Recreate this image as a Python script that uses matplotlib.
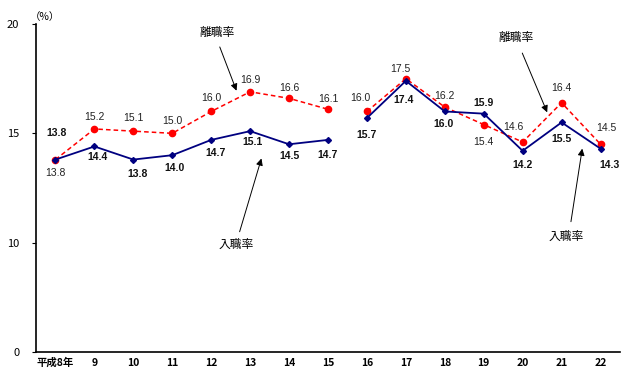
import numpy as np
import matplotlib
matplotlib.use('Agg')
import matplotlib.pyplot as plt

plt.rcParams['font.family'] = ['Noto Sans CJK JP', 'DejaVu Sans']

# データ
years = ['平成8年', '9', '10', '11', '12', '13', '14', '15',
         '16', '17', '18', '19', '20', '21', '22']
nyushoku = [13.8, 14.4, 13.8, 14.0, 14.7, 15.1, 14.5, 14.7,
            15.7, 17.4, 16.0, 15.9, 14.2, 15.5, 14.3]
rishoku = [13.8, 15.2, 15.1, 15.0, 16.0, 16.9, 16.6, 16.1,
           16.0, 17.5, 16.2, 15.4, 14.6, 16.4, 14.5]
y_ticks = [0, 10, 15, 20]

# ラベル位置 (px)
rishoku_off = [(0, -13), (0, 12), (0, 13), (0, 12), (0, 13), (0, 12), (0, 10), (0, 10),
               (-7, 13), (-6, 10), (0, 11), (0, -17), (-9, 15), (0, 15), (6, 16)]
nyushoku_off = [(1, 27), (3, -11), (4, -14), (2, -13), (4, -13), (2, -11), (0, -12), (0, -15),
                (0, -17), (-2, -19), (-1, -13), (0, 11), (0, -14), (0, -17), (9, -16)]


# 縦軸: 0-10 と 10-20 で目盛り間隔が違う
def fwd(v):
    v = np.asarray(v, dtype=float)
    return np.where(v <= 10, v / 10.0, 1 + (v - 10) / 5.0)


def inv(t):
    t = np.asarray(t, dtype=float)
    return np.where(t <= 1, t * 10.0, 10 + (t - 1) * 5.0)


fig = plt.figure(figsize=(6.42, 3.86), dpi=100)
ax = fig.add_axes([36 / 642, 34 / 386, 584 / 642, 328 / 386])
ax.set_yscale('function', functions=(fwd, inv))

x = np.arange(len(years))
navy = '#000080'
red = '#ff0000'
for seg in [slice(0, 8), slice(8, 15)]:
    ax.plot(x[seg], rishoku[seg], color=red, linestyle=(0, (3, 2)), linewidth=1.1,
            marker='o', markersize=4.5, zorder=3)
    ax.plot(x[seg], nyushoku[seg], color=navy, linestyle='-', linewidth=1.3,
            marker='D', markersize=3, zorder=4)

for i in range(len(years)):
    dx, dy = rishoku_off[i]
    ax.annotate(f'{rishoku[i]:.1f}', (x[i], rishoku[i]), xytext=(dx * 0.72, dy * 0.72),
                textcoords='offset points', ha='center', va='center', fontsize=7.5,
                family='Liberation Sans', color='#222222')
    dx, dy = nyushoku_off[i]
    ax.annotate(f'{nyushoku[i]:.1f}', (x[i], nyushoku[i]), xytext=(dx * 0.72, dy * 0.72),
                textcoords='offset points', ha='center', va='center', fontsize=7.5,
                family='Liberation Sans', fontweight='bold', color='#111111')

arrow = dict(arrowstyle='-|>', color='black', lw=0.7, mutation_scale=10, shrinkA=0, shrinkB=0)
ax.text(4.14, 19.6, '離職率', ha='center', va='center', fontsize=8.5)
ax.annotate('', xy=(4.65, 16.95), xytext=(4.22, 18.95), arrowprops=arrow)
ax.text(11.83, 19.4, '離職率', ha='center', va='center', fontsize=8.5)
ax.annotate('', xy=(12.63, 15.96), xytext=(11.99, 18.67), arrowprops=arrow)
ax.text(4.63, 9.8, '入職率', ha='center', va='center', fontsize=8.5)
ax.annotate('', xy=(5.29, 13.85), xytext=(4.73, 10.5), arrowprops=arrow)
ax.text(13.12, 10.3, '入職率', ha='center', va='center', fontsize=8.5)
ax.annotate('', xy=(13.53, 14.3), xytext=(13.24, 10.96), arrowprops=arrow)

ax.set_xlim(-0.5, 14.5)
ax.set_ylim(0, 20)
ax.set_xticks(x)
ax.set_xticklabels(years, fontsize=7.5, fontweight='bold')
ax.tick_params(axis='x', length=0, pad=4)
ax.set_yticks(y_ticks)
ax.set_yticklabels([str(v) for v in y_ticks], fontsize=8)
ax.tick_params(axis='y', length=3, width=0.8, direction='out', pad=9)
ax.spines['top'].set_visible(False)
ax.spines['right'].set_visible(False)
ax.spines['left'].set_linewidth(1.2)
ax.spines['bottom'].set_linewidth(1.2)
ax.minorticks_off()

fig.text(45 / 642, 1 - 17 / 386, '（%）', ha='center', va='center', fontsize=7.5)

fig.savefig('out.png', dpi=100)
